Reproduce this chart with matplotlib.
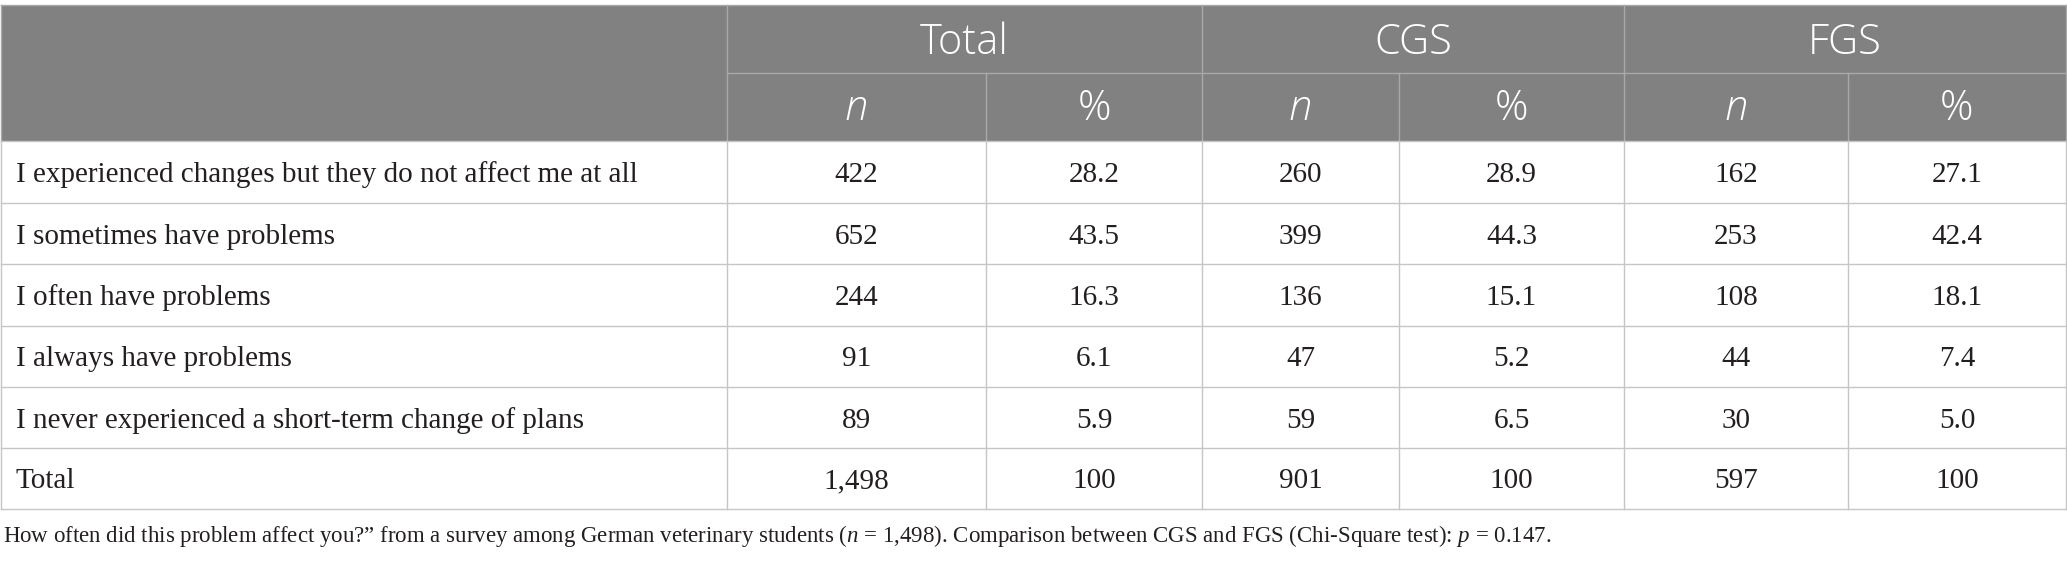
import matplotlib
matplotlib.use("Agg")
import matplotlib.pyplot as plt

# ---- data ----
categories = [
    "I experienced changes but they do not affect me at all",
    "I sometimes have problems",
    "I often have problems",
    "I always have problems",
    "I never experienced a short-term change of plans",
    "Total",
]
total_n = ["422", "652", "244", "91", "89", "1,498"]
total_pct = ["28.2", "43.5", "16.3", "6.1", "5.9", "100"]
cgs_n = ["260", "399", "136", "47", "59", "901"]
cgs_pct = ["28.9", "44.3", "15.1", "5.2", "6.5", "100"]
fgs_n = ["162", "253", "108", "44", "30", "597"]
fgs_pct = ["27.1", "42.4", "18.1", "7.4", "5.0", "100"]
groups = ["Total", "CGS", "FGS"]
subheads = ["n", "%"]
caption = ("How often did this problem affect you?\u201d from a survey among German veterinary "
           "students ($n$ = 1,498). Comparison between CGS and FGS (Chi-Square test): $p$ = 0.147.")

plt.rcParams["mathtext.fontset"] = "custom"
plt.rcParams["mathtext.rm"] = "Liberation Serif"
plt.rcParams["mathtext.it"] = "Liberation Serif:italic"

W, H = 2067, 562
fig = plt.figure(figsize=(W / 100, H / 100), dpi=100)
ax = fig.add_axes([0, 0, 1, 1])
ax.set_xlim(0, W)
ax.set_ylim(H, 0)
ax.axis("off")

col_x = [1, 727, 986, 1202, 1399, 1624, 1848, 2066]
row_y = [5, 72.5, 141, 203, 264, 326, 387, 448, 509]

HEAD = "#808180"
HLINE = "#a9a9a9"
BLINE = "#c6c6c6"
TXT = "#231f20"
serif = "Liberation Serif"
sans = "Open Sans"
body_fs = 21
head_fs = 30

# header background
ax.add_patch(plt.Rectangle((col_x[0], row_y[0]), col_x[-1] - col_x[0], row_y[2] - row_y[0],
                           facecolor=HEAD, edgecolor="none", zorder=1))
# header lines
ax.plot([col_x[0], col_x[-1]], [row_y[0], row_y[0]], color=HLINE, lw=1.0, zorder=2)
ax.plot([col_x[1], col_x[-1]], [row_y[1], row_y[1]], color=HLINE, lw=1.0, zorder=2)
for i in (1, 3, 5):
    ax.plot([col_x[i], col_x[i]], [row_y[0], row_y[2]], color=HLINE, lw=1.0, zorder=2)
for i in (2, 4, 6):
    ax.plot([col_x[i], col_x[i]], [row_y[1], row_y[2]], color=HLINE, lw=1.0, zorder=2)
for i in (0, 7):
    ax.plot([col_x[i], col_x[i]], [row_y[0], row_y[2]], color=HLINE, lw=1.0, zorder=2)

# header text
for g, name in enumerate(groups):
    xc = (col_x[1 + 2 * g] + col_x[3 + 2 * g]) / 2
    ax.text(xc, (row_y[0] + row_y[1]) / 2 + 4, name, ha="center", va="center",
            color="white", fontsize=head_fs, family=sans, fontweight="light")
    for s, sh in enumerate(subheads):
        x0 = col_x[1 + 2 * g + s]
        x1 = col_x[2 + 2 * g + s]
        ax.text((x0 + x1) / 2, (row_y[1] + row_y[2]) / 2 + 2, sh, ha="center", va="center",
                color="white", fontsize=head_fs, family=sans, fontweight="light",
                fontstyle="italic" if sh == "n" else "normal")

# body lines
for y in row_y[2:]:
    ax.plot([col_x[0], col_x[-1]], [y, y], color=BLINE, lw=1.0, zorder=2)
for x in col_x:
    ax.plot([x, x], [row_y[2], row_y[-1]], color=BLINE, lw=1.0, zorder=2)

# body text
columns = [total_n, total_pct, cgs_n, cgs_pct, fgs_n, fgs_pct]
for r, cat in enumerate(categories):
    yc = (row_y[2 + r] + row_y[3 + r]) / 2 + 3
    ax.text(16, yc, cat, ha="left", va="center", fontsize=body_fs, family=serif, color=TXT)
    for c, col in enumerate(columns):
        xc = (col_x[1 + c] + col_x[2 + c]) / 2
        ax.text(xc, yc, col[r], ha="center", va="center", fontsize=body_fs, family=serif,
                color=TXT)

# caption
ax.text(3, 536, caption, ha="left", va="center", fontsize=16.5, family=serif, color=TXT)

fig.savefig("out.png", dpi=100)
